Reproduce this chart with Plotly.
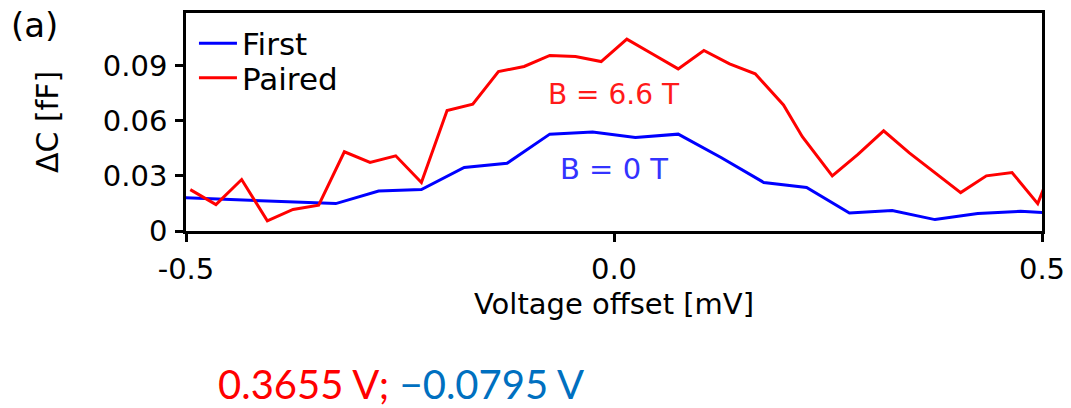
import plotly.graph_objects as go

# ---- data ----
paired_x = [-0.495, -0.465, -0.435, -0.405, -0.375, -0.345, -0.315, -0.285, -0.255, -0.225,
            -0.195, -0.165, -0.135, -0.105, -0.075, -0.045, -0.015, 0.015, 0.045, 0.075,
            0.105, 0.135, 0.165, 0.198, 0.220, 0.255, 0.285, 0.315, 0.345, 0.375,
            0.405, 0.435, 0.465, 0.495, 0.525]
paired_y = [0.0225, 0.0144, 0.0280, 0.0055, 0.0117, 0.0140, 0.0431, 0.0373, 0.0409, 0.0264,
            0.0655, 0.0690, 0.0867, 0.0895, 0.0955, 0.0949, 0.0922, 0.1044, 0.0963, 0.0882,
            0.0982, 0.0909, 0.0855, 0.0686, 0.0513, 0.0300, 0.0417, 0.0545, 0.0425, 0.0316,
            0.0209, 0.0300, 0.0318, 0.0149, 0.0500]

first_x = [-0.525, -0.475, -0.425, -0.375, -0.325, -0.275, -0.225, -0.175, -0.125, -0.075,
           -0.025, 0.025, 0.075, 0.125, 0.175, 0.225, 0.275, 0.325, 0.375, 0.425,
           0.475, 0.525]
first_y = [0.0185, 0.0175, 0.0165, 0.0158, 0.0149, 0.0217, 0.0226, 0.0346, 0.0368, 0.0527,
           0.0538, 0.0509, 0.0527, 0.0400, 0.0264, 0.0237, 0.0098, 0.0111, 0.0062, 0.0095,
           0.0107, 0.0095]

x_ticks = [-0.5, 0.0, 0.5]
x_ticklabels = ["-0.5", "0.0", "0.5"]
y_ticks = [0, 0.03, 0.06, 0.09]
y_ticklabels = ["0", "0.03", "0.06", "0.09"]

FONT = "DejaVu Sans"

fig = go.Figure()
fig.add_trace(go.Scatter(x=first_x, y=first_y, mode="lines", name="First",
                         line=dict(color="#0000ff", width=3), legend="legend"))
fig.add_trace(go.Scatter(x=paired_x, y=paired_y, mode="lines", name="Paired",
                         line=dict(color="#ff0000", width=3), legend="legend2"))

legend_common = dict(xanchor="left", yanchor="top", bgcolor="rgba(0,0,0,0)",
                     font=dict(size=31, family=FONT, color="black"), itemwidth=38)

fig.update_layout(
    width=1071, height=408,
    margin=dict(l=186, r=29, t=13, b=177, autoexpand=False),
    paper_bgcolor="white", plot_bgcolor="white",
    font=dict(family=FONT, size=29, color="black"),
    showlegend=True,
    legend=dict(x=0.0093, y=0.983, **legend_common),
    legend2=dict(x=0.0093, y=0.825, **legend_common),
    xaxis=dict(range=[-0.5, 0.5], tickvals=x_ticks, ticktext=x_ticklabels,
               showgrid=False, zeroline=False, showline=True, mirror=True,
               linecolor="black", linewidth=2.5, ticks="outside", ticklen=8,
               tickwidth=2.5, tickcolor="black", tickfont=dict(size=29),
               ticklabelstandoff=2, automargin=False,
               title=dict(text="Voltage offset [mV]", font=dict(size=29), standoff=10)),
    yaxis=dict(range=[0, 0.1186], tickvals=y_ticks, ticktext=y_ticklabels,
               showgrid=False, zeroline=False, showline=True, mirror=True,
               linecolor="black", linewidth=2.5, ticks="outside", ticklen=8,
               tickwidth=2.5, tickcolor="black", tickfont=dict(size=29),
               ticklabelstandoff=2, automargin=False,
               title=dict(text="ΔC [fF]", font=dict(size=30), standoff=36)),
)

fig.add_annotation(x=0.0, y=0.0745, xref="x", yref="y", text="B = 6.6 T",
                   showarrow=False, font=dict(size=28, color="#ff1a1a", family=FONT))
fig.add_annotation(x=0.0, y=0.0335, xref="x", yref="y", text="B = 0 T",
                   showarrow=False, font=dict(size=29, color="#3333ff", family=FONT))
fig.add_annotation(x=-0.207, y=1.045, xref="paper", yref="paper", text="(a)",
                   xanchor="left", yanchor="top", showarrow=False,
                   font=dict(size=34, color="black", family=FONT))
fig.add_annotation(x=0.2507, y=-0.70, xref="paper", yref="paper",
                   xanchor="center", yanchor="middle",
                   text="<span style='color:#ff0000'>0.3655 V;</span> "
                        "<span style='color:#0070c0'>\u22120.0795 V</span>",
                   showarrow=False, font=dict(size=40, family="Lato"))

fig.write_html("out.html", config={"displayModeBar": False},
               post_script="document.body.style.margin='0';document.body.style.padding='0';")
